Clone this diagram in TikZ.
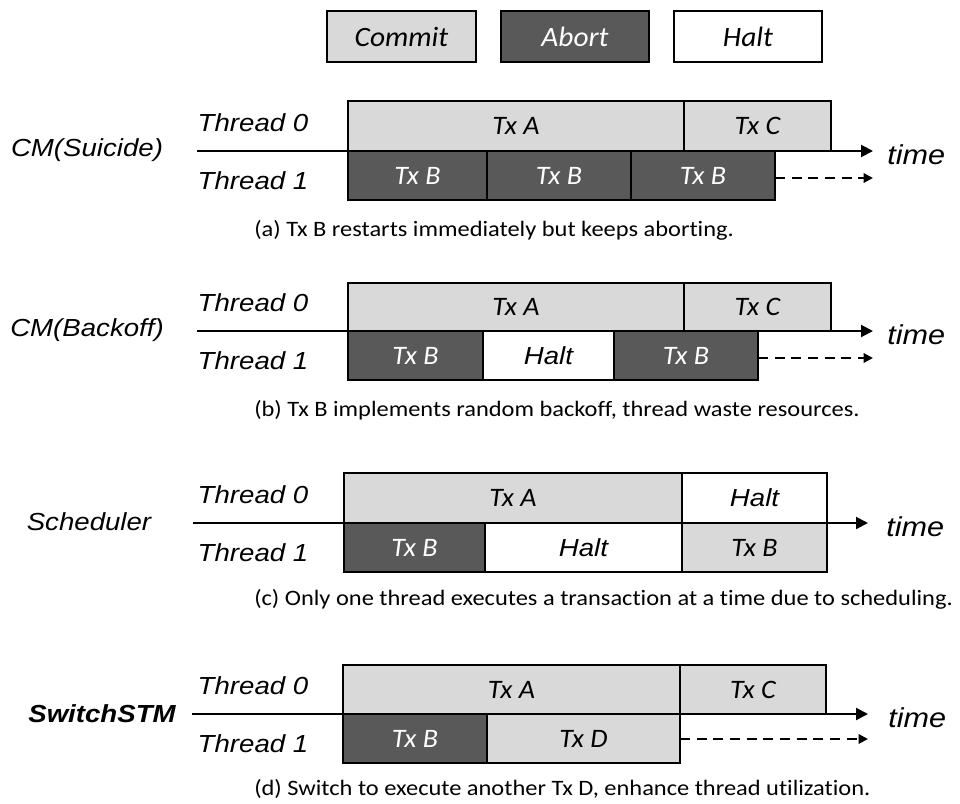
\documentclass[tikz,border=0pt]{standalone}
\usepackage{fontspec}
\setmainfont{Carlito}
\newfontfamily\arialfont[FakeStretch=1.12]{Liberation Sans}
\newfontfamily\capfont[FakeStretch=1.11, Ligatures=NoCommon]{Carlito}
\newfontfamily\boxfont[FakeStretch=1.05]{Carlito}
\usetikzlibrary{arrows.meta}
\definecolor{commitgray}{HTML}{D9D9D9}
\definecolor{abortgray}{HTML}{595959}
\tikzset{
  txbox/.style={draw=black, line width=1.5pt, inner sep=0pt, outer sep=0pt,
    font=\boxfont\fontsize{20}{24}\selectfont\itshape},
  commit/.style={txbox, fill=commitgray},
  abort/.style={txbox, fill=abortgray, text=white},
  halt/.style={txbox, fill=white, font=\arialfont\fontsize{18.5}{22}\selectfont\itshape},
  legendbox/.style={txbox, font=\boxfont\fontsize{21}{25}\selectfont\itshape},
  threadlabel/.style={font=\arialfont\fontsize{18.5}{22}\selectfont\itshape, inner sep=0pt},
  schemelabel/.style={font=\arialfont\fontsize{18.5}{22}\selectfont\itshape, inner sep=0pt},
  timelabel/.style={font=\arialfont\fontsize{20.5}{24}\selectfont\itshape, inner sep=0pt, anchor=west},
  caption/.style={font=\capfont\fontsize{16.5}{19}\selectfont, inner sep=0pt, anchor=base west},
  axis/.style={line width=1.5pt, -{Triangle[length=9pt,width=9pt]}},
  waitline/.style={line width=1.5pt, dash pattern=on 7.5pt off 5pt, -{Triangle[length=7pt,width=7pt]}},
}
% \tran{name}{style}{x1}{y1}{x2}{y2}{text}: box spanning (x1,y1)--(x2,y2)
\newcommand\tran[7]{%
  \node[#2, anchor=north west, minimum width={(#5-#3)*0.75pt},
        minimum height={(#6-#4)*0.75pt}] (#1) at (#3,#4) {#7};}
\begin{document}
\begin{tikzpicture}[x=0.75pt, y=-0.75pt]
\useasboundingbox (0,0) rectangle (960,803);

% legend
\tran{lgC}{legendbox, fill=commitgray}{327}{11}{476}{62}{Commit}
\tran{lgA}{legendbox, fill=abortgray, text=white}{501}{11}{649}{62}{Abort}
\tran{lgH}{legendbox, fill=white}{674}{11}{822}{62}{Halt}

% (a) contention manager: suicide
\coordinate (as) at (197,151);
\coordinate (ae) at (873,151);
\coordinate (ad) at (873,178);
\draw[axis] (as) -- (ae);
\tran{a0a}{commit}{348}{101}{684}{151}{Tx A}
\tran{a0b}{commit}{684}{101}{831}{151}{Tx C}
\tran{a1a}{abort}{348}{151}{487}{200}{Tx B}
\tran{a1b}{abort}{487}{151}{631}{200}{Tx B}
\tran{a1c}{abort}{631}{151}{775}{200}{Tx B}
\draw[waitline] (a1c.east |- ad) -- (ad);
\node[schemelabel] (aname) at (87,150) {CM(Suicide)};
\node[threadlabel] (at0) at (253,123) {Thread 0};
\node[threadlabel] (at1) at (253,181) {Thread 1};
\node[timelabel] (atime) at (887,155) {time};
\node[caption] (acap) at (254,236) {(a) Tx B restarts immediately but keeps aborting.};

% (b) contention manager: backoff
\coordinate (bs) at (197,331);
\coordinate (be) at (873,331);
\coordinate (bd) at (873,358);
\draw[axis] (bs) -- (be);
\tran{b0a}{commit}{348}{283}{684}{331}{Tx A}
\tran{b0b}{commit}{684}{283}{831}{331}{Tx C}
\tran{b1a}{abort}{348}{331}{483}{380}{Tx B}
\tran{b1b}{halt}{483}{331}{614}{380}{Halt}
\tran{b1c}{abort}{614}{331}{758}{380}{Tx B}
\draw[waitline] (b1c.east |- bd) -- (bd);
\node[schemelabel] (bname) at (87,330) {CM(Backoff)};
\node[threadlabel] (bt0) at (253,303) {Thread 0};
\node[threadlabel] (bt1) at (253,361) {Thread 1};
\node[timelabel] (btime) at (887,335) {time};
\node[caption] (bcap) at (254,416) {(b) Tx B implements random backoff, thread waste resources.};

% (c) scheduler
\coordinate (cs) at (193,523);
\coordinate (ce) at (868,523);
\draw[axis] (cs) -- (ce);
\tran{c0a}{commit}{344}{473}{682}{523}{Tx A}
\tran{c0b}{halt}{682}{473}{827}{523}{Halt}
\tran{c1a}{abort}{344}{523}{485}{572}{Tx B}
\tran{c1b}{halt}{485}{523}{682}{572}{Halt}
\tran{c1c}{commit}{682}{523}{827}{572}{Tx B}
\node[schemelabel] (cname) at (89,522) {Scheduler};
\node[threadlabel] (ct0) at (253,495) {Thread 0};
\node[threadlabel] (ct1) at (253,553) {Thread 1};
\node[timelabel] (ctime) at (886,527) {time};
\node[caption] (ccap) at (254,605) {(c) Only one thread executes a transaction at a time due to scheduling.};

% (d) SwitchSTM
\coordinate (ds) at (192,714);
\coordinate (de) at (868,714);
\coordinate (dd) at (868,739);
\draw[axis] (ds) -- (de);
\tran{d0a}{commit}{343}{665}{680}{714}{Tx A}
\tran{d0b}{commit}{680}{665}{826}{714}{Tx C}
\tran{d1a}{abort}{343}{714}{487}{763}{Tx B}
\tran{d1b}{commit}{487}{714}{680}{763}{Tx D}
\draw[waitline] (d1b.east |- dd) -- (dd);
\node[schemelabel, font=\arialfont\fontsize{18.5}{22}\selectfont\bfseries\itshape] (dname) at (102,714) {SwitchSTM};
\node[threadlabel] (dt0) at (253,686) {Thread 0};
\node[threadlabel] (dt1) at (253,744) {Thread 1};
\node[timelabel] (dtime) at (888,718) {time};
\node[caption] (dcap) at (254,795) {(d) Switch to execute another Tx D, enhance thread utilization.};
\end{tikzpicture}
\end{document}
